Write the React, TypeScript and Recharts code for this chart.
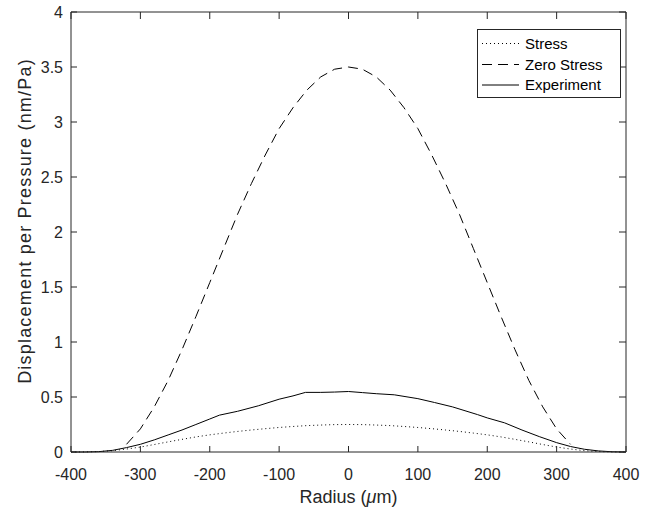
import React from 'react';
import { LineChart, Line, XAxis, YAxis } from 'recharts';

// ---- data ----
const xTicks = [-400, -300, -200, -100, 0, 100, 200, 300, 400];
const yTicks = [0, 0.5, 1, 1.5, 2, 2.5, 3, 3.5, 4];

const stressRadius = [-400, -380, -360, -340, -320, -300, -280, -260, -240, -220, -200, -180, -160, -140, -120, -100, -80, -60, -40, -20, 0,
  20, 40, 60, 80, 100, 120, 140, 160, 180, 200, 220, 240, 260, 280, 300, 320, 340, 360, 380, 400];
const stressValues = [0, 0.001, 0.004, 0.012, 0.027, 0.045, 0.068, 0.092, 0.115, 0.137, 0.156, 0.172, 0.187, 0.2, 0.212, 0.223, 0.232, 0.24, 0.245, 0.249, 0.25,
  0.249, 0.245, 0.24, 0.232, 0.223, 0.212, 0.2, 0.187, 0.172, 0.156, 0.137, 0.115, 0.092, 0.068, 0.045, 0.027, 0.012, 0.004, 0.001, 0];

const zeroRadius = [-320, -300, -280, -260, -240, -220, -200, -180, -160, -140, -120, -100, -80, -60, -40, -20, 0,
  20, 40, 60, 80, 100, 120, 140, 160, 180, 200, 220, 240, 260, 280, 300, 320];
const zeroValues = [0.07, 0.21, 0.41, 0.65, 0.93, 1.23, 1.54, 1.85, 2.16, 2.44, 2.7, 2.94, 3.13, 3.29, 3.41, 3.48, 3.5,
  3.48, 3.41, 3.29, 3.13, 2.94, 2.7, 2.44, 2.16, 1.85, 1.54, 1.23, 0.93, 0.65, 0.41, 0.21, 0.07];

const expRadius = [-400, -380, -360, -340, -320, -300, -280, -260, -240, -220, -200, -186, -160, -130, -100, -80, -62, -40, -20, 0,
  20, 40, 66, 100, 124, 150, 186, 200, 225, 250, 275, 300, 320, 340, 360, 380, 400];
const expValues = [0, 0, 0.003, 0.015, 0.04, 0.07, 0.11, 0.155, 0.2, 0.25, 0.3, 0.335, 0.37, 0.42, 0.48, 0.51, 0.542, 0.542, 0.545, 0.55,
  0.54, 0.53, 0.52, 0.485, 0.45, 0.41, 0.34, 0.31, 0.265, 0.2, 0.14, 0.085, 0.05, 0.025, 0.01, 0.002, 0];

const seriesNames = ['Stress', 'Zero Stress', 'Experiment'];

const stressData = stressRadius.map((r, i) => ({ r, v: stressValues[i] }));
const zeroData = zeroRadius.map((r, i) => ({ r, v: zeroValues[i] }));
const expData = expRadius.map((r, i) => ({ r, v: expValues[i] }));

const AX = '#262626';
const FONT = '"Liberation Sans", Arial, Helvetica, sans-serif';

const dashes = ['1 3', '10 6', undefined];

const LegendBox = () => (
  <svg width={144} height={69} style={{ display: 'block' }}>
    <rect x={0.5} y={0.5} width={143} height={68} fill="#fff" stroke={AX} strokeWidth={1} />
    {seriesNames.map((n, i) => {
      const y = [14.5, 35.5, 56][i];
      return (
        <g key={n}>
          <line x1={5} x2={42} y1={y} y2={y} stroke="#000" strokeWidth={1} strokeDasharray={dashes[i]} />
          <text x={48} y={y + 5} fontSize={15} fontFamily={FONT} fill="#000">{n}</text>
        </g>
      );
    })}
  </svg>
);

const XLabel = (props: any) => {
  const vb = props.viewBox || {};
  const cx = vb.x + vb.width / 2;
  return (
    <text x={cx} y={503} textAnchor="middle" fontSize={18} fontFamily={FONT} fill={AX}>
      Radius (<tspan fontStyle="italic">μ</tspan>m)
    </text>
  );
};

const YLabel = () => (
  <text x={31} y={221} transform="rotate(-90 31 221)" textAnchor="middle" fontSize={18} fontFamily={FONT} fill={AX} letterSpacing={1.2}>
    Displacement per Pressure (nm/Pa)
  </text>
);

export default function App() {
  return (
    <div style={{ position: 'absolute', left: 0, top: 0, width: 654, height: 509, background: '#fff' }}>
      <LineChart width={654} height={509} margin={{ top: 11, right: 27, bottom: 7, left: 11 }}>
        <XAxis dataKey="r" type="number" domain={[-400, 400]} ticks={xTicks} height={50}
          stroke={AX} tickSize={-6} tickMargin={23} interval={0}
          tick={{ fontSize: 16, fontFamily: FONT, fill: AX }} label={<XLabel />} />
        <XAxis xAxisId="top" dataKey="r" orientation="top" type="number" domain={[-400, 400]} ticks={xTicks} height={1}
          stroke={AX} tickSize={-7} tick={() => <g />} interval={0} />
        <YAxis type="number" domain={[0, 4]} ticks={yTicks} width={60} interval={0}
          stroke={AX} tickSize={-6} tickMargin={14}
          tick={{ fontSize: 16, fontFamily: FONT, fill: AX }} label={<YLabel />} />
        <YAxis yAxisId="right" orientation="right" type="number" domain={[0, 4]} ticks={yTicks} width={1}
          stroke={AX} tickSize={-7} tick={() => <g />} interval={0} />
        <Line data={expData} xAxisId="top" yAxisId="right" dataKey="v" stroke="none" strokeWidth={0}
          dot={false} activeDot={false} legendType="none" isAnimationActive={false} type="linear" />
        <Line data={stressData} dataKey="v" name="Stress" stroke="#000" strokeWidth={1} strokeDasharray="1 3"
          dot={false} isAnimationActive={false} type="linear" />
        <Line data={zeroData} dataKey="v" name="Zero Stress" stroke="#000" strokeWidth={1} strokeDasharray="10 6"
          dot={false} isAnimationActive={false} type="linear" />
        <Line data={expData} dataKey="v" name="Experiment" stroke="#000" strokeWidth={1}
          dot={false} isAnimationActive={false} type="linear" />
      </LineChart>
      <div style={{ position: 'absolute', left: 477, top: 29 }}>
        <LegendBox />
      </div>
    </div>
  );
}
